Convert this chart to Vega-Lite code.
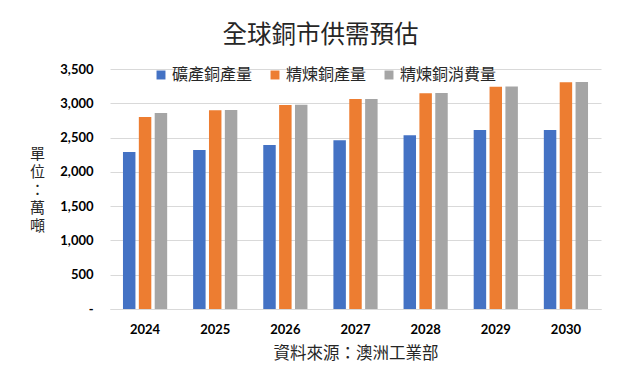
{
  "$schema": "https://vega.github.io/schema/vega-lite/v6.json",
  "width": 491,
  "height": 240,
  "autosize": {"type": "none"},
  "padding": {"left": 110, "top": 69, "right": 39, "bottom": 83},
  "background": "white",
  "title": {
    "text": "全球銅市供需預估",
    "font": "Noto Sans CJK TC",
    "fontSize": 24.5,
    "fontWeight": "normal",
    "color": "#262626",
    "anchor": "middle",
    "dx": -35,
    "offset": 15
  },
  "data": {
    "values": [
      {"year": "2024", "series": "礦產銅產量", "value": 2290},
      {"year": "2024", "series": "精煉銅產量", "value": 2800},
      {"year": "2024", "series": "精煉銅消費量", "value": 2858},
      {"year": "2025", "series": "礦產銅產量", "value": 2319},
      {"year": "2025", "series": "精煉銅產量", "value": 2898},
      {"year": "2025", "series": "精煉銅消費量", "value": 2902},
      {"year": "2026", "series": "礦產銅產量", "value": 2392},
      {"year": "2026", "series": "精煉銅產量", "value": 2975},
      {"year": "2026", "series": "精煉銅消費量", "value": 2980},
      {"year": "2027", "series": "礦產銅產量", "value": 2460},
      {"year": "2027", "series": "精煉銅產量", "value": 3062},
      {"year": "2027", "series": "精煉銅消費量", "value": 3064},
      {"year": "2028", "series": "礦產銅產量", "value": 2533},
      {"year": "2028", "series": "精煉銅產量", "value": 3145},
      {"year": "2028", "series": "精煉銅消費量", "value": 3150},
      {"year": "2029", "series": "礦產銅產量", "value": 2610},
      {"year": "2029", "series": "精煉銅產量", "value": 3242},
      {"year": "2029", "series": "精煉銅消費量", "value": 3244},
      {"year": "2030", "series": "礦產銅產量", "value": 2610},
      {"year": "2030", "series": "精煉銅產量", "value": 3306},
      {"year": "2030", "series": "精煉銅消費量", "value": 3312}
    ]
  },
  "mark": {"type": "bar"},
  "encoding": {
    "x": {
      "field": "year",
      "type": "nominal",
      "scale": {"paddingInner": 0.37, "paddingOuter": 0.185},
      "axis": {
        "title": "資料來源：澳洲工業部",
        "titleFont": "Noto Sans CJK TC",
        "titleFontSize": 16.5,
        "titleFontWeight": "normal",
        "titleColor": "#262626",
        "titlePadding": 9,
        "labelAngle": 0,
        "labelFont": "Lato",
        "labelFontSize": 13,
        "labelFontWeight": "bold",
        "labelColor": "#000000",
        "labelPadding": 14,
        "ticks": false,
        "domainColor": "#d9d9d9",
        "grid": false
      }
    },
    "xOffset": {
      "field": "series",
      "type": "nominal",
      "sort": ["礦產銅產量", "精煉銅產量", "精煉銅消費量"],
      "scale": {"paddingInner": 0.214, "paddingOuter": 0}
    },
    "y": {
      "field": "value",
      "type": "quantitative",
      "scale": {"domain": [0, 3500]},
      "axis": {
        "values": [0, 500, 1000, 1500, 2000, 2500, 3000, 3500],
        "labelExpr": "datum.value == 0 ? '-' : format(datum.value, ',')",
        "labelFont": "Lato",
        "labelFontSize": 13,
        "labelFontWeight": "bold",
        "labelColor": "#000000",
        "labelPadding": 17,
        "ticks": false,
        "domain": false,
        "gridColor": "#d9d9d9",
        "title": ["單", "位", "：", "萬", "噸"],
        "titleAngle": 0,
        "titleFont": "Noto Sans CJK TC",
        "titleFontSize": 15,
        "titleFontWeight": "normal",
        "titleColor": "#262626",
        "titleLineHeight": 18,
        "titleAlign": "center",
        "titleBaseline": "middle",
        "titleX": -73,
        "titleY": 84
      }
    },
    "color": {
      "field": "series",
      "type": "nominal",
      "sort": ["礦產銅產量", "精煉銅產量", "精煉銅消費量"],
      "scale": {
        "domain": ["礦產銅產量", "精煉銅產量", "精煉銅消費量"],
        "range": ["#4472C4", "#ED7D31", "#A5A5A5"]
      },
      "legend": {
        "title": null,
        "orient": "none",
        "direction": "horizontal",
        "legendX": 43,
        "legendY": -2,
        "symbolType": "square",
        "symbolSize": 80,
        "symbolStrokeWidth": 0,
        "labelFont": "Noto Sans CJK TC",
        "labelFontSize": 16,
        "labelColor": "#262626",
        "labelOffset": 3,
        "columnPadding": 14
      }
    }
  },
  "config": {
    "view": {"stroke": null}
  }
}
